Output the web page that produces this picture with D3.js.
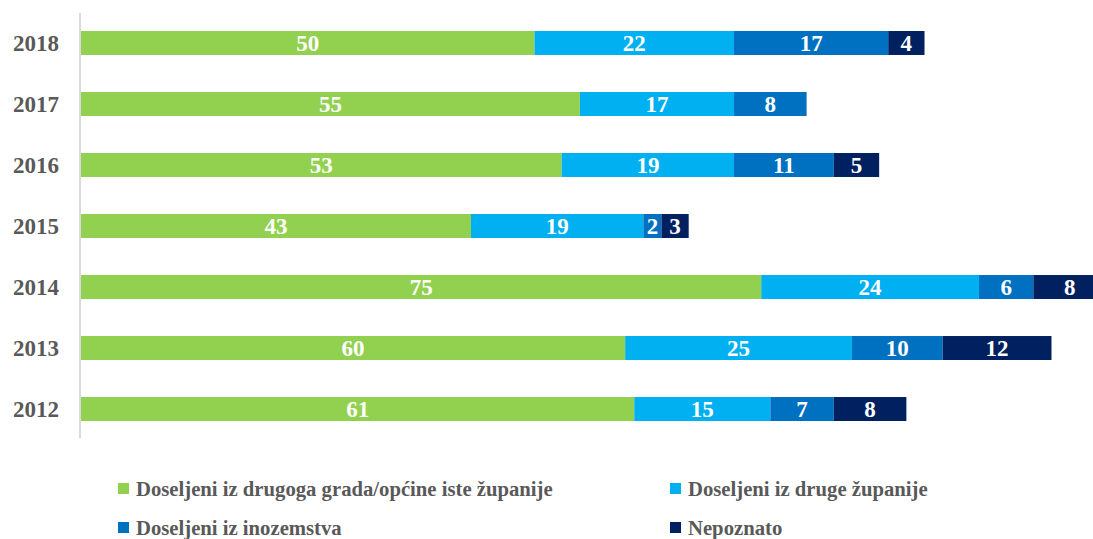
<!DOCTYPE html>
<html>
<head>
<meta charset="utf-8" />
<title>Doseljeni</title>
<script src="https://d3js.org/d3.v7.min.js"></script>
<style>
  body { margin: 0; background: #fff; }
</style>
</head>
<body>
<svg id="chart" width="1093" height="539"></svg>
<script>
var years = ["2018", "2017", "2016", "2015", "2014", "2013", "2012"];
var series = ["Doseljeni iz drugoga grada/općine iste županije", "Doseljeni iz druge županije", "Doseljeni iz inozemstva", "Nepoznato"];
var colors = ["#92D050", "#00B0F0", "#0070C0", "#002060"];
// values per year, same order as years
var istaZupanija = [50, 55, 53, 43, 75, 60, 61];
var drugaZupanija = [22, 17, 19, 19, 24, 25, 15];
var inozemstvo   = [17, 8, 11, 2, 6, 10, 7];
var nepoznato    = [4, 0, 5, 3, 8, 12, 8];

var FONT = "'Liberation Serif', 'Times New Roman', Times, serif";
var svg = d3.select("#chart");
var cols = [istaZupanija, drugaZupanija, inozemstvo, nepoznato];
var rows = years.map(function(y, i) {
  var o = { year: y };
  series.forEach(function(s, k) { o[s] = cols[k][i]; });
  return o;
});
var stacked = d3.stack().keys(series)(rows);

var x = d3.scaleLinear().domain([0, 100]).range([81, 81 + 907]);
var y = d3.scaleBand().domain(years).range([31, 421]).paddingInner(0.607);

// vertical axis line
svg.append("line")
  .attr("x1", 80).attr("x2", 80).attr("y1", 13).attr("y2", 438)
  .attr("stroke", "#d9d9d9").attr("stroke-width", 2);

var layer = svg.selectAll("g.layer").data(stacked).enter().append("g")
  .attr("class", "layer").attr("fill", function(d, i) { return colors[i]; });

layer.selectAll("rect").data(function(d) { return d; }).enter().append("rect")
  .attr("x", function(d) { return x(d[0]); })
  .attr("y", function(d) { return y(d.data.year); })
  .attr("width", function(d) { return x(d[1]) - x(d[0]); })
  .attr("height", y.bandwidth());

layer.selectAll("text").data(function(d) { return d.filter(function(e) { return e[1] - e[0] > 0; }); })
  .enter().append("text")
  .attr("x", function(d) { return (x(d[0]) + x(d[1])) / 2; })
  .attr("y", function(d) { return y(d.data.year) + y.bandwidth() / 2; })
  .attr("dy", "0.35em")
  .attr("text-anchor", "middle")
  .attr("fill", "#fff")
  .style("font-family", FONT).style("font-weight", "bold")
  .style("font-size", "23px")
  .text(function(d) { return d[1] - d[0]; });

// year labels
svg.selectAll("text.year").data(years).enter().append("text")
  .attr("class", "year")
  .attr("x", 59)
  .attr("y", function(d) { return y(d) + y.bandwidth() / 2; })
  .attr("dy", "0.35em")
  .attr("text-anchor", "end")
  .attr("fill", "#595959")
  .style("font-family", FONT).style("font-weight", "bold")
  .style("font-size", "23px")
  .text(function(d) { return d; });

// legend
var legPos = [[118, 489], [670, 489], [118, 528], [670, 528]];
var leg = svg.selectAll("g.leg").data(series).enter().append("g")
  .attr("class", "leg")
  .attr("transform", function(d, i) { return "translate(" + legPos[i][0] + "," + legPos[i][1] + ")"; });
leg.append("rect").attr("x", 0).attr("y", -6).attr("width", 11).attr("height", 11)
  .attr("fill", function(d, i) { return colors[i]; });
leg.append("text").attr("x", 18).attr("dy", "0.35em")
  .attr("fill", "#595959")
  .style("font-family", FONT).style("font-weight", "bold")
  .style("font-size", "20.7px")
  .text(function(d) { return d; });
</script>
</body>
</html>
